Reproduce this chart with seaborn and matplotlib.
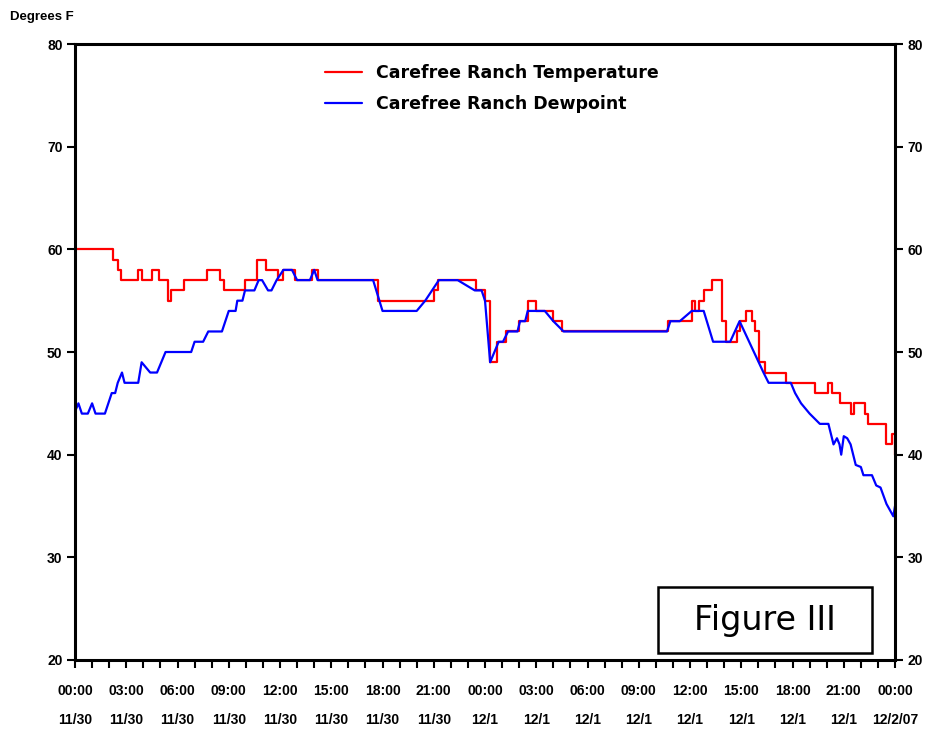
import matplotlib
matplotlib.use("Agg")
import matplotlib.pyplot as plt
from matplotlib.patches import Rectangle
from matplotlib.ticker import MultipleLocator
import seaborn as sns

# ── Data (hours since 00:00 11/30, degrees F) ─────────────────────────────────
temp_hours = [0, 2.2, 2.5, 2.7, 3.7, 3.9, 4.5, 4.9, 5.45, 5.6, 6.4, 7.7, 8.5, 8.7,
              9.95, 10.65, 11.2, 11.9, 12.2, 12.9, 13.9, 14.2, 17.75, 21.0, 21.25,
              23.5, 24.0, 24.3, 24.7, 25.2, 26.0, 26.5, 27.0, 28.0, 28.5, 34.7,
              36.1, 36.3, 36.55, 36.8, 37.3, 37.9, 38.1, 38.75, 38.9, 39.3, 39.6,
              39.8, 40.05, 40.4, 41.6, 43.3, 44.05, 44.3, 44.8, 45.4, 45.6, 46.25,
              46.4, 47.5, 47.85, 48.0]
temp_vals = [60, 59, 58, 57, 58, 57, 58, 57, 55, 56, 57, 58, 57, 56,
             57, 59, 58, 57, 58, 57, 58, 57, 55, 56, 57,
             56, 55, 49, 51, 52, 53, 55, 54, 53, 52, 53,
             55, 54, 55, 56, 57, 53, 51, 52, 53, 54, 53,
             52, 49, 48, 47, 46, 47, 46, 45, 44, 45, 44,
             43, 41, 42, 40]

dew_hours = [0, 0.2, 0.4, 0.75, 1.0, 1.2, 1.75, 1.95, 2.15, 2.35, 2.5, 2.75, 2.9,
             3.7, 3.9, 4.4, 4.8, 5.3, 6.8, 7.0, 7.5, 7.8, 8.6, 8.8, 9.0, 9.4, 9.5,
             9.8, 9.95, 10.5, 10.75, 10.95, 11.3, 11.5, 11.8, 12.2, 12.7, 13.0,
             13.75, 14.0, 14.2, 17.45, 18.0, 20.0, 20.5, 20.9, 21.3, 22.4, 23.4,
             23.8, 24.0, 24.1, 24.3, 24.8, 25.05, 25.35, 25.9, 26.05, 26.35, 26.5,
             27.5, 28.0, 28.6, 34.65, 34.85, 35.4, 36.1, 36.8, 37.35, 38.35, 38.9,
             40.3, 40.6, 41.9, 42.15, 42.5, 43.0, 43.6, 44.1, 44.4, 44.6, 44.75,
             44.85, 45.0, 45.2, 45.4, 45.7, 46.0, 46.15, 46.65, 46.9, 47.15, 47.5,
             47.9, 48.0]
dew_vals = [44.2, 45, 44, 44, 45, 44, 44, 45, 46, 46, 47, 48, 47,
            47, 49, 48, 48, 50, 50, 51, 51, 52, 52, 53, 54, 54, 55,
            55, 56, 56, 57, 57, 56, 56, 57, 58, 58, 57,
            57, 58, 57, 57, 54, 54, 55, 56, 57, 57, 56,
            56, 55, 53, 49, 51, 51, 52, 52, 53, 53, 54,
            54, 53, 52, 52, 53, 53, 54, 54, 51, 51, 53,
            48, 47, 47, 46, 45, 44, 43, 43, 41, 41.6, 41,
            40, 41.8, 41.6, 41, 39, 38.8, 38, 38, 37, 36.8, 35.2,
            34, 35]

time_labels = ["00:00\n11/30", "03:00\n11/30", "06:00\n11/30", "09:00\n11/30",
               "12:00\n11/30", "15:00\n11/30", "18:00\n11/30", "21:00\n11/30",
               "00:00\n12/1", "03:00\n12/1", "06:00\n12/1", "09:00\n12/1",
               "12:00\n12/1", "15:00\n12/1", "18:00\n12/1", "21:00\n12/1",
               "00:00\n12/2/07"]
y_ticks = [20, 30, 40, 50, 60, 70, 80]

# ── Plot ──────────────────────────────────────────────────────────────────────
sns.set_style("ticks")
plt.rcParams["font.family"] = ["Liberation Sans", "DejaVu Sans"]
plt.rcParams["text.color"] = "black"
plt.rcParams["xtick.color"] = "black"
plt.rcParams["ytick.color"] = "black"

fig = plt.figure(figsize=(9.33, 7.3), dpi=100)
ax = fig.add_axes([0.0804, 0.0959, 0.8789, 0.8438])

sns.lineplot(x=temp_hours, y=temp_vals, ax=ax, color="red", lw=1.6,
             drawstyle="steps-post", estimator=None, sort=False,
             label="Carefree Ranch Temperature")
sns.lineplot(x=dew_hours, y=dew_vals, ax=ax, color="blue", lw=1.6,
             estimator=None, sort=False, label="Carefree Ranch Dewpoint")

ax.set_xlim(0, 48)
ax.set_ylim(20, 80)
ax.set_xticks(range(0, 49, 3))
ax.set_xticklabels(time_labels, fontsize=10, fontweight="bold", linespacing=2.4)
ax.xaxis.set_minor_locator(MultipleLocator(1))
ax.set_yticks(y_ticks)
ax.set_yticklabels([str(v) for v in y_ticks], fontsize=10, fontweight="bold")
ax.tick_params(axis="x", which="both", length=6, width=1.5, pad=11)
ax.tick_params(axis="y", which="both", length=6, width=1.5, pad=3,
               right=True, labelright=True)
for s in ax.spines.values():
    s.set_linewidth(2.2)
    s.set_color("black")
ax.set_xlabel("")
ax.set_ylabel("")

fig.text(10 / 933, 1 - 17 / 730, "Degrees F", fontsize=9.5, fontweight="bold",
         va="center", ha="left")

leg = ax.legend(loc="upper left", bbox_to_anchor=(0.305, 0.967), frameon=False,
                borderpad=0, borderaxespad=0, handlelength=2.1, handletextpad=0.85,
                labelspacing=0.72, prop={"family": "DejaVu Sans", "size": 12.5,
                                         "weight": "bold"})
for t in leg.get_texts():
    t.set_color("black")

ax.add_patch(Rectangle((0.711, 0.011), 0.261, 0.1075, transform=ax.transAxes,
                       facecolor="white", edgecolor="black", lw=1.8, zorder=5))
ax.text(0.8415, 0.0648, "Figure III", transform=ax.transAxes, ha="center",
        va="center", fontsize=24, family="DejaVu Sans", color="black", zorder=6)

fig.savefig("out.png", dpi=100)
